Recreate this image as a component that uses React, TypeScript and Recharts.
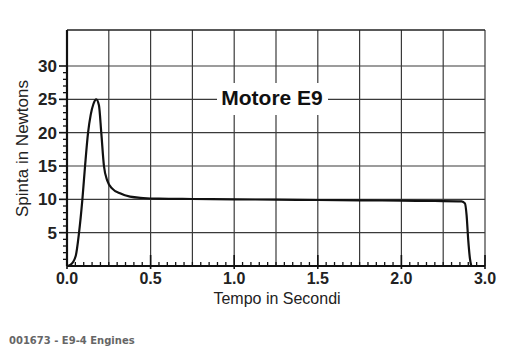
import React from 'react';
import { LineChart, Line, XAxis, YAxis, ReferenceLine } from 'recharts';

// Thrust curve (time in axis units, thrust in Newtons)
const timeS = [0, 0.022, 0.052, 0.072, 0.092, 0.108, 0.126, 0.142, 0.158, 0.175, 0.191, 0.205, 0.221, 0.241, 0.271, 0.317, 0.377, 0.456, 0.55, 0.75, 1.0, 1.25, 1.5, 1.75, 2.0, 2.2, 2.36, 2.38, 2.39, 2.4, 2.41, 2.418];
const thrustN = [0, 0.2, 1.5, 5, 10, 15, 20, 22.7, 24.3, 25, 24.1, 20, 15, 12.8, 11.6, 10.9, 10.4, 10.2, 10.1, 10.05, 10.0, 9.95, 9.9, 9.85, 9.8, 9.75, 9.7, 9.4, 7.6, 3.8, 1.1, 0];

// Axis ticks and labels (the reference labels its last tick "3.0")
const xMajorTicks = [0, 0.5, 1, 1.5, 2, 2.5];
const xTickLabels = ['0.0', '0.5', '1.0', '1.5', '2.0', '3.0'];
const yMajorTicks = [5, 10, 15, 20, 25, 30];
const yTickLabels = ['5', '10', '15', '20', '25', '30'];
const xGridValues = [0.25, 0.5, 0.75, 1, 1.25, 1.5, 1.75, 2, 2.25, 2.5];
const yGridValues = [5, 10, 15, 20, 25, 30];
const xDomain = [0, 2.5];
const yDomain = [0, 35.4];
const xMinorStep = 0.05;
const yMinorStep = 1;

const xTicks = Array.from({ length: Math.round((xDomain[1] - xDomain[0]) / xMinorStep) + 1 }, (_, i) => +(i * xMinorStep).toFixed(2));
const yTicks = Array.from({ length: 31 }, (_, i) => i * yMinorStep);

const data = timeS.map((t, i) => ({ t, f: thrustN[i] }));

const FONT = "Arial, 'Liberation Sans', Helvetica, sans-serif";

const XTick = (props: any) => {
  const { x, y, payload } = props;
  const idx = xMajorTicks.findIndex((v) => Math.abs(v - payload.value) < 1e-6);
  if (idx >= 0) {
    return (
      <g>
        <line x1={x} x2={x} y1={y - 11} y2={y + 3} stroke="#111" strokeWidth={1.6} />
        <text x={x} y={y + 18} textAnchor="middle" fontFamily={FONT} fontWeight="bold" fontSize={16} fill="#222">
          {xTickLabels[idx]}
        </text>
      </g>
    );
  }
  return <line x1={x} x2={x} y1={y - 4} y2={y} stroke="#111" strokeWidth={1.3} />;
};

const YTick = (props: any) => {
  const { x, y, payload } = props;
  const idx = yMajorTicks.findIndex((v) => Math.abs(v - payload.value) < 1e-6);
  if (idx >= 0) {
    return (
      <g>
        <line x1={x - 8} x2={x} y1={y} y2={y} stroke="#111" strokeWidth={1.6} />
        <text x={x - 10} y={y} dy="0.36em" textAnchor="end" fontFamily={FONT} fontWeight="bold" fontSize={17} fill="#222">
          {yTickLabels[idx]}
        </text>
      </g>
    );
  }
  if (payload.value === 0) return <g />;
  return <line x1={x - 4} x2={x} y1={y} y2={y} stroke="#111" strokeWidth={1.3} />;
};

export default function App() {
  return (
    <div style={{ position: 'absolute', left: 0, top: 0, width: 517, height: 352, background: '#fff' }}>
      <LineChart width={517} height={352} data={data} margin={{ top: 30, right: 32, bottom: 56, left: 27 }}>
        <XAxis
          type="number"
          dataKey="t"
          domain={xDomain}
          ticks={xTicks}
          interval={0}
          tickSize={0}
          tickMargin={0}
          tick={(p: any) => <XTick {...p} />}
          axisLine={{ stroke: '#111', strokeWidth: 2.2 }}
          tickLine={false}
          height={30}
          allowDataOverflow
        />
        <YAxis
          type="number"
          domain={yDomain}
          ticks={yTicks}
          interval={0}
          tickSize={0}
          tickMargin={0}
          tick={(p: any) => <YTick {...p} />}
          axisLine={{ stroke: '#111', strokeWidth: 2.2 }}
          tickLine={false}
          width={40}
          allowDataOverflow
        />
        {xGridValues.map((v) => (
          <ReferenceLine key={'x' + v} x={v} stroke="#3a3a3a" strokeWidth={1.2} ifOverflow="extendDomain" />
        ))}
        {yGridValues.map((v) => (
          <ReferenceLine key={'y' + v} y={v} stroke="#3a3a3a" strokeWidth={1.2} />
        ))}
        <ReferenceLine y={yDomain[1]} stroke="#222" strokeWidth={1.6} />
        <Line type="monotone" dataKey="f" stroke="#111" strokeWidth={2.2} dot={false} isAnimationActive={false} />
      </LineChart>
      <svg width={517} height={352} style={{ position: 'absolute', left: 0, top: 0, pointerEvents: 'none' }}>
        <rect x={217} y={83} width={111} height={32} fill="#fff" />
        <text x={272} y={105} textAnchor="middle" fontFamily={FONT} fontWeight="bold" fontSize={21} fill="#111">
          Motore E9
        </text>
        <text x={28} y={148.5} transform="rotate(-90 28 148.5)" textAnchor="middle" fontFamily={FONT} fontSize={17} fill="#222">
          Spinta in Newtons
        </text>
        <text x={277} y={304} textAnchor="middle" fontFamily={FONT} fontSize={16} fill="#222">
          Tempo in Secondi
        </text>
        <text x={9} y={344} fontFamily="'DejaVu Sans', Verdana, sans-serif" fontWeight="bold" fontSize={10} fill="#666">
          001673 - E9-4 Engines
        </text>
      </svg>
    </div>
  );
}
